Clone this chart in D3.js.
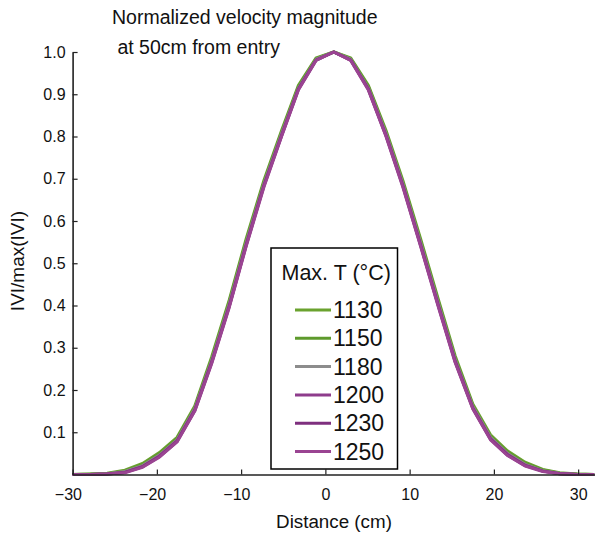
<!DOCTYPE html>
<html>
<head>
<meta charset="utf-8">
<script src="https://cdn.jsdelivr.net/npm/d3@7"></script>
<style>
  html, body { margin: 0; padding: 0; background: #fff; }
  svg { display: block; }
  text { font-family: "Liberation Sans", Arial, Helvetica, sans-serif; fill: #111; }
</style>
</head>
<body>
<svg id="chart" width="595" height="534"></svg>
<script>
// ---- data ----
const distance = [-30.0, -27.9, -25.9, -23.8, -21.7, -19.7, -17.6, -15.5, -13.5, -11.4, -9.4, -7.3, -5.2, -3.2, -1.1, 1.0,
                  3.0, 5.1, 7.2, 9.2, 11.3, 13.4, 15.4, 17.5, 19.6, 21.6, 23.7, 25.8, 27.8, 29.9, 31.9];

const v1130 = [0.000, 0.001, 0.003, 0.010, 0.026, 0.052, 0.088, 0.162, 0.278, 0.414, 0.558, 0.696, 0.814, 0.921, 0.986, 1.000,
               0.986, 0.921, 0.814, 0.696, 0.558, 0.415, 0.281, 0.167, 0.094, 0.056, 0.029, 0.012, 0.004, 0.001, 0.000];
const v1150 = [0.000, 0.001, 0.002, 0.008, 0.023, 0.049, 0.085, 0.158, 0.273, 0.409, 0.553, 0.691, 0.810, 0.918, 0.984, 1.000,
               0.984, 0.918, 0.810, 0.691, 0.553, 0.410, 0.276, 0.163, 0.090, 0.053, 0.026, 0.011, 0.003, 0.001, 0.000];
const v1180 = [0.000, 0.000, 0.002, 0.007, 0.021, 0.046, 0.082, 0.156, 0.270, 0.405, 0.549, 0.688, 0.807, 0.915, 0.983, 1.000,
               0.983, 0.915, 0.807, 0.688, 0.549, 0.406, 0.273, 0.161, 0.088, 0.050, 0.024, 0.009, 0.003, 0.000, 0.000];
const v1200 = [0.000, 0.000, 0.001, 0.005, 0.019, 0.044, 0.080, 0.153, 0.266, 0.400, 0.544, 0.684, 0.803, 0.913, 0.981, 1.000,
               0.981, 0.913, 0.803, 0.684, 0.544, 0.401, 0.269, 0.158, 0.085, 0.048, 0.022, 0.008, 0.002, 0.000, 0.000];
const v1230 = [0.000, 0.000, 0.001, 0.005, 0.018, 0.042, 0.078, 0.151, 0.264, 0.398, 0.542, 0.682, 0.801, 0.911, 0.981, 1.000,
               0.981, 0.911, 0.801, 0.682, 0.542, 0.399, 0.267, 0.156, 0.083, 0.046, 0.021, 0.008, 0.002, 0.000, 0.000];
const v1250 = [0.000, 0.000, 0.001, 0.004, 0.017, 0.041, 0.077, 0.150, 0.262, 0.396, 0.540, 0.680, 0.800, 0.910, 0.980, 1.000,
               0.980, 0.910, 0.800, 0.680, 0.540, 0.397, 0.265, 0.155, 0.082, 0.045, 0.020, 0.007, 0.002, 0.000, 0.000];

const seriesNames = ["1130", "1150", "1180", "1200", "1230", "1250"];
const seriesValues = [v1130, v1150, v1180, v1200, v1230, v1250];
const seriesColors = ["#6aa22e", "#5e9a2c", "#8c8c8c", "#8e3c8c", "#7e2f7e", "#9a4492"];

const xTicks = [-30, -20, -10, 0, 10, 20, 30];
const yTicks = [0.1, 0.2, 0.3, 0.4, 0.5, 0.6, 0.7, 0.8, 0.9, 1.0];

const titleLines = ["Normalized velocity magnitude", " at 50cm from entry"];
const xLabel = "Distance (cm)";
const yLabel = "IVI/max(IVI)";
const legendTitle = "Max. T (°C)";

// ---- layout ----
const svg = d3.select("#chart");
const x = d3.scaleLinear().domain([-30, 32]).range([72.6, 595]);
const y = d3.scaleLinear().domain([0, 1]).range([474.5, 52]);

const fmtMinus = d => (d < 0 ? "\u2212" + Math.abs(d) : String(d));

// lines
const line = d3.line().x((d, i) => x(distance[i])).y(d => y(d));
seriesValues.forEach((vals, k) => {
  svg.append("path")
    .datum(vals)
    .attr("d", line)
    .attr("fill", "none")
    .attr("stroke", seriesColors[k])
    .attr("stroke-width", 3)
    .attr("stroke-linejoin", "round");
});

// axes
const xAxis = d3.axisBottom(x).tickValues(xTicks).tickFormat(fmtMinus)
  .tickSizeInner(-5).tickSizeOuter(0).tickPadding(14);
const gx = svg.append("g").attr("transform", `translate(0,${y(0)})`).call(xAxis);

const yAxis = d3.axisLeft(y).tickValues(yTicks).tickFormat(d3.format(".1f"))
  .tickSizeInner(-5).tickSizeOuter(0).tickPadding(7);
const gy = svg.append("g").attr("transform", `translate(${x(-30)},0)`).call(yAxis);

[gx, gy].forEach(g => {
  g.select(".domain").attr("stroke", "#222").attr("stroke-width", 1.6);
  g.selectAll(".tick line").attr("stroke", "#222").attr("stroke-width", 1.2);
  g.selectAll(".tick text").attr("font-size", 16)
    .attr("font-family", "'Liberation Sans', Arial, Helvetica, sans-serif").attr("fill", "#111");
});
// digits centred on the tick, minus sign hanging to the left
gx.selectAll(".tick text").attr("dx", d => (d < 0 ? -4.7 : 0));

// axis labels
svg.append("text").attr("x", 334).attr("y", 528).attr("text-anchor", "middle")
  .attr("font-size", 18.8).text(xLabel);
svg.append("text").attr("transform", "translate(24,261) rotate(-90)").attr("text-anchor", "middle")
  .attr("font-size", 19).text(yLabel);

// title
titleLines.forEach((t, i) => {
  svg.append("text").attr("x", 112).attr("y", 24 + i * 30)
    .attr("font-size", 19.5).attr("xml:space", "preserve").style("white-space", "pre").text(t);
});

// legend
const lg = svg.append("g");
lg.append("rect").attr("x", 271).attr("y", 248).attr("width", 126.5).attr("height", 221)
  .attr("fill", "#fff").attr("stroke", "#000").attr("stroke-width", 1.5);
lg.append("text").attr("x", 281.5).attr("y", 280).attr("font-size", 21.5).text(legendTitle);
seriesNames.forEach((name, k) => {
  const yy = 310 + k * 28.3;
  lg.append("line").attr("x1", 295).attr("x2", 331).attr("y1", yy).attr("y2", yy)
    .attr("stroke", seriesColors[k]).attr("stroke-width", 3);
  lg.append("text").attr("x", 333).attr("y", yy + 8).attr("font-size", 23).text(name);
});
</script>
</body>
</html>
